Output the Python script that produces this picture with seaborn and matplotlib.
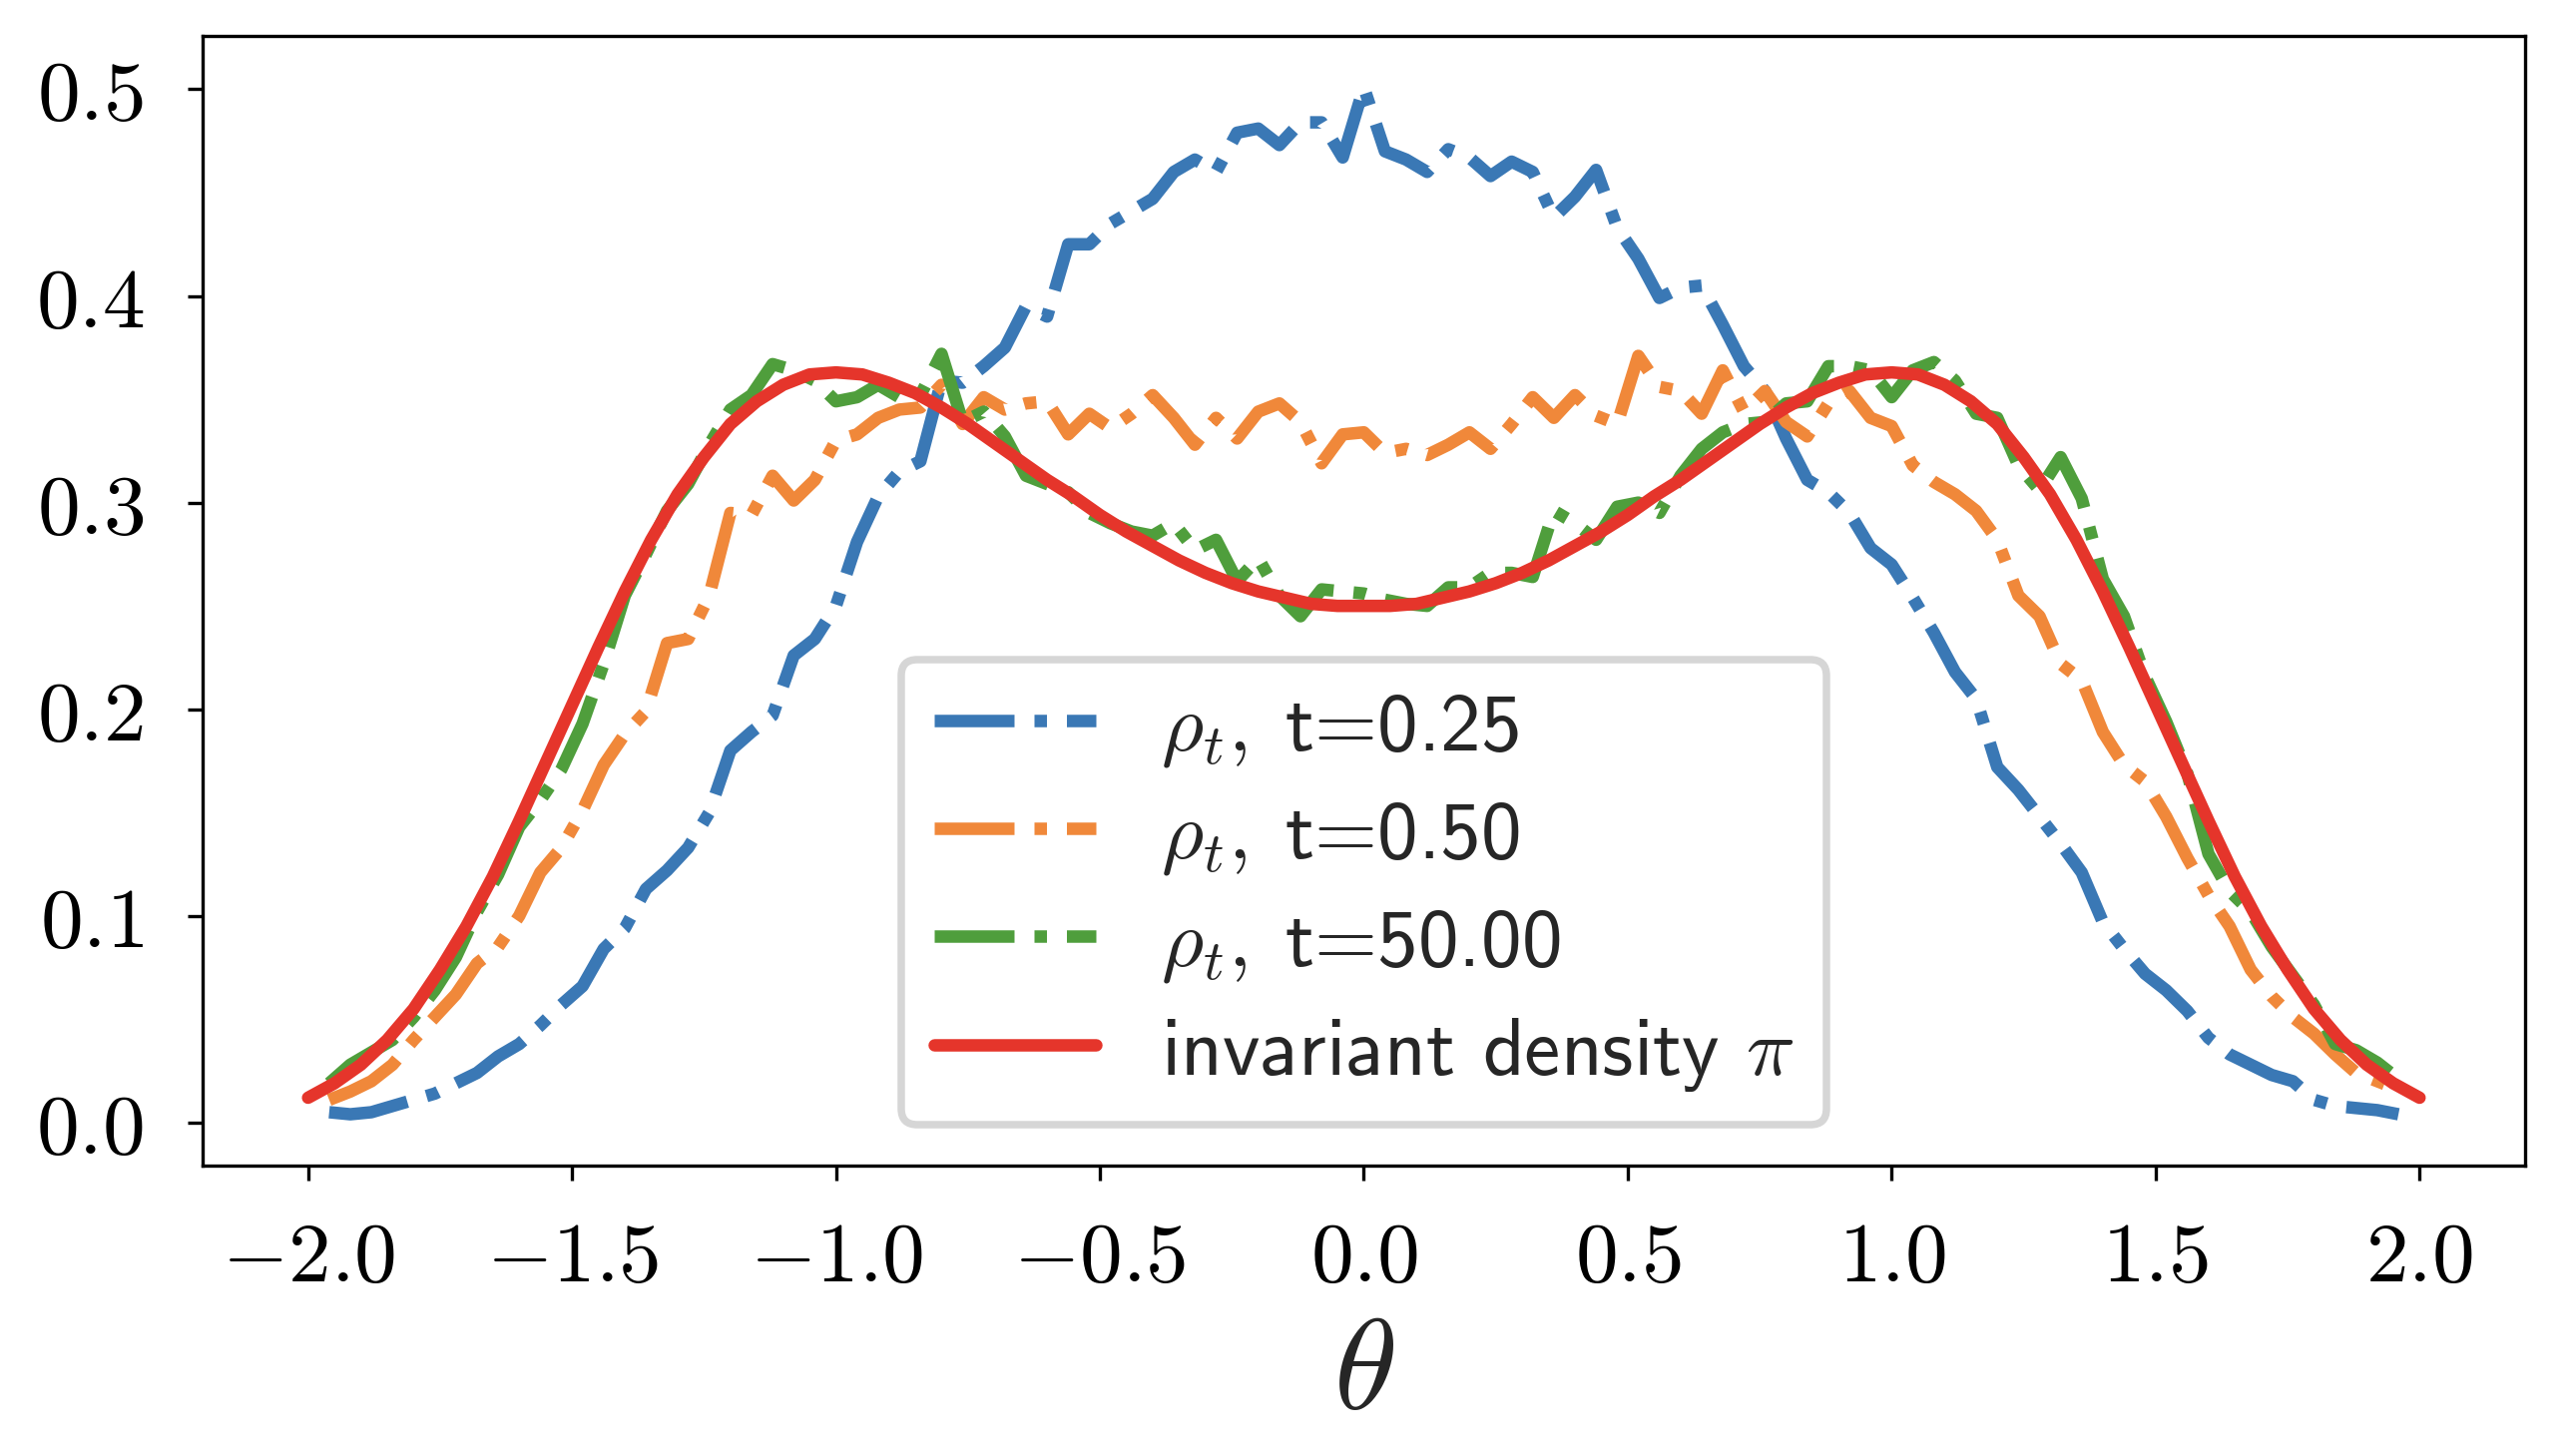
"""
Density snapshots rho_t against the invariant density pi
"""

import numpy as np
import matplotlib
matplotlib.use("Agg")
import matplotlib.pyplot as plt
import seaborn as sns
from matplotlib.ticker import FuncFormatter, MultipleLocator

# ----------------------------
# Data
# ----------------------------
theta_hist = np.round(np.linspace(-1.96, 1.96, 99), 2)

rho_t025 = [
    0.005, 0.004, 0.005, 0.008, 0.011, 0.014, 0.019, 0.024, 0.032, 0.038,
    0.047, 0.057, 0.066, 0.084, 0.094, 0.113, 0.122, 0.133, 0.150, 0.180,
    0.189, 0.197, 0.226, 0.234, 0.250, 0.281, 0.303, 0.315, 0.320, 0.359,
    0.358, 0.366, 0.375, 0.395, 0.390, 0.425, 0.425, 0.435, 0.441, 0.447,
    0.460, 0.466, 0.460, 0.479, 0.481, 0.473, 0.484, 0.484, 0.467, 0.501,
    0.470, 0.466, 0.460, 0.471, 0.467, 0.458, 0.465, 0.460, 0.438, 0.448,
    0.461, 0.433, 0.418, 0.399, 0.404, 0.405, 0.386, 0.366, 0.354, 0.331,
    0.311, 0.305, 0.295, 0.278, 0.270, 0.254, 0.237, 0.218, 0.205, 0.172,
    0.161, 0.148, 0.135, 0.121, 0.097, 0.084, 0.072, 0.064, 0.054, 0.041,
    0.033, 0.028, 0.023, 0.020, 0.011, 0.008, 0.007, 0.006, 0.004,
]

rho_t050 = [
    0.011, 0.015, 0.020, 0.028, 0.040, 0.051, 0.062, 0.077, 0.085, 0.100,
    0.121, 0.133, 0.151, 0.173, 0.188, 0.199, 0.232, 0.234, 0.255, 0.295,
    0.294, 0.313, 0.301, 0.311, 0.330, 0.333, 0.341, 0.345, 0.346, 0.357,
    0.338, 0.351, 0.345, 0.348, 0.349, 0.333, 0.343, 0.336, 0.343, 0.352,
    0.341, 0.328, 0.341, 0.331, 0.344, 0.348, 0.339, 0.319, 0.333, 0.334,
    0.324, 0.326, 0.323, 0.328, 0.334, 0.326, 0.338, 0.351, 0.341, 0.352,
    0.342, 0.338, 0.371, 0.356, 0.354, 0.343, 0.364, 0.344, 0.354, 0.339,
    0.332, 0.348, 0.354, 0.341, 0.337, 0.318, 0.310, 0.304, 0.296, 0.282,
    0.255, 0.245, 0.222, 0.214, 0.189, 0.173, 0.165, 0.148, 0.128, 0.110,
    0.095, 0.074, 0.061, 0.051, 0.043, 0.033, 0.024, 0.020, 0.016,
]

rho_t5000 = [
    0.019, 0.028, 0.034, 0.040, 0.051, 0.064, 0.080, 0.102, 0.120, 0.143,
    0.156, 0.171, 0.193, 0.222, 0.255, 0.275, 0.296, 0.309, 0.328, 0.345,
    0.352, 0.367, 0.364, 0.359, 0.349, 0.351, 0.357, 0.351, 0.352, 0.372,
    0.339, 0.344, 0.332, 0.313, 0.309, 0.305, 0.295, 0.290, 0.286, 0.284,
    0.290, 0.277, 0.282, 0.262, 0.273, 0.255, 0.245, 0.258, 0.257, 0.256,
    0.253, 0.251, 0.250, 0.259, 0.259, 0.266, 0.266, 0.264, 0.296, 0.290,
    0.282, 0.298, 0.300, 0.295, 0.313, 0.326, 0.334, 0.338, 0.339, 0.348,
    0.349, 0.366, 0.366, 0.364, 0.351, 0.364, 0.368, 0.359, 0.343, 0.341,
    0.318, 0.306, 0.322, 0.302, 0.263, 0.245, 0.216, 0.194, 0.169, 0.130,
    0.112, 0.102, 0.085, 0.071, 0.057, 0.038, 0.035, 0.029, 0.021,
]

theta_pi = np.round(np.linspace(-2.0, 2.0, 81), 2)

pi_density = [
    0.012, 0.019, 0.028, 0.040, 0.055, 0.074, 0.095, 0.119, 0.146, 0.174,
    0.202, 0.230, 0.257, 0.282, 0.304, 0.322, 0.338, 0.349, 0.357, 0.362,
    0.363, 0.362, 0.358, 0.353, 0.346, 0.338, 0.329, 0.320, 0.311, 0.303,
    0.294, 0.286, 0.279, 0.272, 0.266, 0.261, 0.257, 0.254, 0.251, 0.250,
    0.250,
    0.250, 0.251, 0.254, 0.257, 0.261, 0.266, 0.272, 0.279, 0.286, 0.294,
    0.303, 0.311, 0.320, 0.329, 0.338, 0.346, 0.353, 0.358, 0.362, 0.363,
    0.362, 0.357, 0.349, 0.338, 0.322, 0.304, 0.282, 0.257, 0.230, 0.202,
    0.174, 0.146, 0.119, 0.095, 0.074, 0.055, 0.040, 0.028, 0.019, 0.012,
]

labels = [r"$\rho_t,\;$t=0.25", r"$\rho_t,\;$t=0.50", r"$\rho_t,\;$t=50.00"]
colors = ["#3a78b5", "#f0883a", "#4f9e3c"]

# ----------------------------
# Style
# ----------------------------
sns.set_style("ticks", rc={
    "axes.edgecolor": "black",
    "xtick.color": "black",
    "ytick.color": "black",
    "axes.linewidth": 1.5,
    "xtick.major.width": 1.2,
    "ytick.major.width": 1.2,
    "xtick.major.size": 6.5,
    "ytick.major.size": 6.5,
})
plt.rcParams["font.family"] = ["cmss10", "DejaVu Sans"]
plt.rcParams["mathtext.fontset"] = "cm"

fig, ax = plt.subplots(figsize=(2578 / 300, 1460 / 300), dpi=300)
fig.subplots_adjust(left=0.0787, right=0.9814, bottom=0.1993, top=0.9747)

for rho, lab, col in zip([rho_t025, rho_t050, rho_t5000], labels, colors):
    sns.lineplot(x=theta_hist, y=rho, ax=ax, color=col, linestyle="-.",
                 linewidth=3, label=lab)
sns.lineplot(x=theta_pi, y=pi_density, ax=ax, color="#e5352b", linestyle="-",
             linewidth=3, label=r"invariant density $\pi$")

ax.xaxis.set_major_locator(MultipleLocator(0.5))
ax.yaxis.set_major_locator(MultipleLocator(0.1))


def tex_fmt(v, pos):
    if abs(v) < 1e-9:
        v = 0.0
    return f"${v:.1f}$"


ax.xaxis.set_major_formatter(FuncFormatter(tex_fmt))
ax.yaxis.set_major_formatter(FuncFormatter(tex_fmt))
ax.tick_params(axis="x", labelsize=20.5, pad=9.8)
ax.tick_params(axis="y", labelsize=20.5, pad=10.6)
ax.set_xlabel(r"$\theta$", fontsize=31, labelpad=5)
ax.set_ylabel("")

leg = ax.legend(loc="lower center", prop={"family": "cmss10", "size": 19.5},
                labelspacing=0.38, frameon=True, fancybox=True,
                edgecolor="0.8", framealpha=0.8)
leg.get_frame().set_linewidth(1.8)

plt.savefig("out.png", dpi=300)
plt.close()
print("Saved: out.png")
